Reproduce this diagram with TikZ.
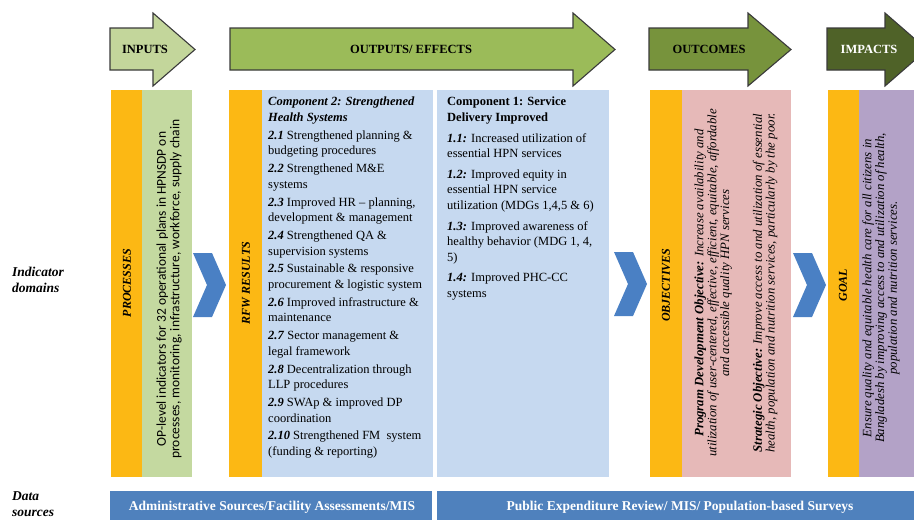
\documentclass[tikz,border=0pt]{standalone}
\usepackage{fontspec}
\setmainfont{Liberation Serif}
\newfontfamily\calib{Carlito}
\definecolor{orng}{HTML}{FCB814}
\definecolor{grnA}{HTML}{C3D69B}
\definecolor{grnB}{HTML}{9BBB59}
\definecolor{grnC}{HTML}{77933C}
\definecolor{grnD}{HTML}{4F6228}
\definecolor{grnCol}{HTML}{C4D9A0}
\definecolor{bluCol}{HTML}{C6D9F0}
\definecolor{pnkCol}{HTML}{E6B9B8}
\definecolor{prpCol}{HTML}{B3A2C7}
\definecolor{chevc}{HTML}{4A80C4}
\definecolor{dbar}{HTML}{4F81BD}
\definecolor{edge}{HTML}{3A3A3A}
\tikzset{
  hdrarrow/.style={draw=edge, line width=1.1pt, line join=miter},
  hdr/.style={font=\fontsize{12.5}{14}\selectfont\bfseries, inner sep=0pt},
  collabel/.style={rotate=90, font=\fontsize{12}{14}\selectfont\bfseries\itshape, inner sep=0pt},
  bodytxt/.style={anchor=north west, align=left, inner sep=0pt, font=\fontsize{12.5}{15.6}\selectfont},
  sidelabel/.style={anchor=west, align=left, inner sep=0pt, font=\fontsize{13.5}{15.5}\selectfont\bfseries\itshape},
  srctxt/.style={text=white, inner sep=0pt, font=\fontsize{13.5}{15}\selectfont\bfseries},
  chev/.pic={\fill[chevc] (0,0) -- (19,0) -- (33,32) -- (19,64) -- (0,64) -- (14,32) -- cycle;}
}
\newcommand{\itn}[1]{\textbf{\textit{#1}}}
\begin{document}
\begin{tikzpicture}[x=1pt,y=-1pt]
\useasboundingbox (0,0) rectangle (914,520);
% header arrows
\draw[hdrarrow, fill=grnA] (110,28) -- (153,28) -- (153,13) -- (195,49.5) -- (153,86) -- (153,70) -- (110,70) -- cycle;
\draw[hdrarrow, fill=grnB] (230,28) -- (573,28) -- (573,13) -- (615,49.5) -- (573,86) -- (573,70) -- (230,70) -- cycle;
\draw[hdrarrow, fill=grnC] (649,28) -- (748,28) -- (748,13) -- (791,49.5) -- (748,86) -- (748,70) -- (649,70) -- cycle;
\draw[hdrarrow, fill=grnD] (827,28) -- (885,28) -- (885,13) -- (927,49.5) -- (885,86) -- (885,70) -- (827,70) -- cycle;
\node[hdr] (inputs) at (145,49.5) {INPUTS};
\node[hdr] (outputs) at (411,49.5) {OUTPUTS/ EFFECTS};
\node[hdr] (outcomes) at (709,49.5) {OUTCOMES};
\node[hdr, text=white] (impacts) at (869,49.5) {IMPACTS};
% columns
\fill[orng] (111,90) rectangle (142,477);
\fill[grnCol] (142,90) rectangle (192,477);
\fill[orng] (229,90) rectangle (262,477);
\fill[bluCol] (262,90) rectangle (433,477);
\fill[bluCol] (437,90) rectangle (609,477);
\fill[orng] (650,90) rectangle (682,477);
\fill[pnkCol] (682,90) rectangle (791,477);
\fill[orng] (828,90) rectangle (859,477);
\fill[prpCol] (859,90) rectangle (914,477);
% chevrons
\pic at (193,253) {chev};
\pic at (614,252) {chev};
\pic at (793,253) {chev};
% column labels
\node[collabel] (proc) at (127,283) {PROCESSES};
\node[collabel] (rfw) at (246,283) {RFW RESULTS};
\node[collabel] (obj) at (666,285) {OBJECTIVES};
\node[collabel] (goal) at (843,285) {GOAL};
% processes text
\node[rotate=90, align=center, inner sep=0pt, font=\calib\fontsize{13.5}{13.5}\selectfont] (optxt) at (169,289)
  {OP-level indicators for 32 operational plans in HPNSDP on\\processes, monitoring, infrastructure, workforce, supply chain};
% component 2
\node[bodytxt] (comp2) at (268,97) {%
\itn{Component 2: Strengthened}\\
\itn{Health Systems}\\[2.2pt]
\itn{2.1} Strengthened planning \&\\
budgeting procedures\\[2.2pt]
\itn{2.2} Strengthened M\&E\\
systems\\[2.2pt]
\itn{2.3} Improved HR -- planning,\\
development \& management\\[2.2pt]
\itn{2.4} Strengthened QA \&\\
supervision systems\\[2.2pt]
\itn{2.5} Sustainable \& responsive\\
procurement \& logistic system\\[2.2pt]
\itn{2.6} Improved infrastructure \&\\
maintenance\\[2.2pt]
\itn{2.7} Sector management \&\\
legal framework\\[2.2pt]
\itn{2.8} Decentralization through\\
LLP procedures\\[2.2pt]
\itn{2.9} SWAp \& improved DP\\
coordination\\[2.2pt]
\itn{2.10} Strengthened FM\ \ system\\
(funding \& reporting)};
% component 1
\node[bodytxt] (comp1) at (447,97) {%
\textbf{Component 1: Service}\\
\textbf{Delivery Improved}\\[5pt]
\itn{1.1:} Increased utilization of\\
essential HPN services\\[5pt]
\itn{1.2:} Improved equity in\\
essential HPN service\\
utilization (MDGs 1,4,5 \& 6)\\[5pt]
\itn{1.3:} Improved awareness of\\
healthy behavior (MDG 1, 4,\\
5)\\[5pt]
\itn{1.4:} Improved PHC-CC\\
systems};
% objectives text
\node[rotate=90, align=center, inner sep=0pt, font=\fontsize{12.8}{12.8}\selectfont\itshape] (objtxt) at (736,283)
  {\textbf{Program Development Objective:} Increase availability and\\
   utilization of user-centered, effective, efficient, equitable, affordable\\
   and accessible quality HPN services\\[20pt]
   \textbf{Strategic Objective:} Improve access to and utilization of essential\\
   health, population and nutrition services, particularly by the poor.};
% goal text
\node[rotate=90, align=center, inner sep=0pt, font=\fontsize{12.8}{12.8}\selectfont\itshape] (goaltxt) at (881,288)
  {Ensure quality and equitable health care for all citizens in\\
   Bangladesh by improving access to and utilization of health,\\
   population and nutrition services.};
% side labels
\node[sidelabel] (indic) at (12,280) {Indicator\\domains};
\node[sidelabel] (datasrc) at (12,504) {Data\\sources};
% data source bars
\fill[dbar] (110,491) rectangle (432,520);
\fill[dbar] (437,491) rectangle (914,520);
\node[srctxt] (src1) at (272,507.5) {Administrative Sources/Facility Assessments/MIS};
\node[srctxt] (src2) at (680,507.5) {Public Expenditure Review/ MIS/ Population-based Surveys};
\end{tikzpicture}
\end{document}
